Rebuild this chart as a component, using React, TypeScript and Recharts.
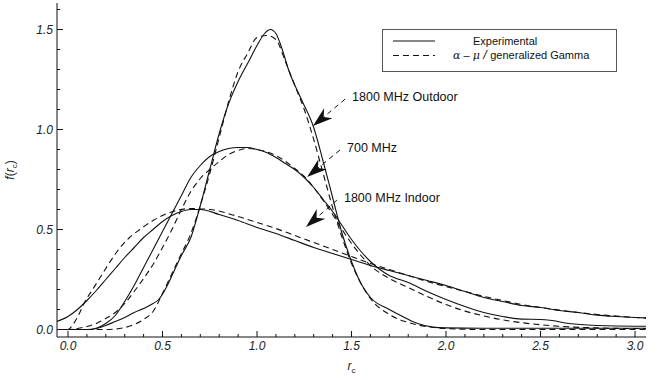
import React from 'react';
import { LineChart, Line, XAxis, YAxis, Legend, ReferenceLine } from 'recharts';

// [r_c, f(r_c)]
const indoorExp = [
  [-0.06, 0.04], [0, 0.065], [0.05, 0.1], [0.1, 0.145], [0.15, 0.195], [0.2, 0.25], [0.25, 0.305],
  [0.3, 0.36], [0.35, 0.41], [0.4, 0.46], [0.45, 0.5], [0.5, 0.54], [0.55, 0.57], [0.6, 0.59],
  [0.65, 0.6], [0.7, 0.6], [0.8, 0.575], [0.9, 0.545], [1.0, 0.51], [1.1, 0.48], [1.2, 0.445],
  [1.3, 0.41], [1.4, 0.38], [1.5, 0.35], [1.6, 0.32], [1.7, 0.295], [1.8, 0.27], [1.9, 0.245],
  [2.0, 0.22], [2.1, 0.19], [2.2, 0.16], [2.3, 0.14], [2.4, 0.12], [2.5, 0.11], [2.6, 0.095],
  [2.7, 0.085], [2.8, 0.072], [2.9, 0.065], [3.0, 0.06], [3.06, 0.058],
];
const indoorFit = [
  [-0.06, 0], [0, 0], [0.03, 0.03], [0.06, 0.08], [0.09, 0.14], [0.13, 0.2], [0.17, 0.26],
  [0.21, 0.32], [0.26, 0.39], [0.32, 0.455], [0.38, 0.5], [0.45, 0.545], [0.54, 0.585],
  [0.65, 0.605], [0.75, 0.6], [0.9, 0.565], [1.0, 0.535], [1.1, 0.505], [1.2, 0.47], [1.3, 0.435],
  [1.4, 0.4], [1.5, 0.365], [1.6, 0.33], [1.7, 0.3], [1.8, 0.27], [1.9, 0.24], [2.0, 0.215],
  [2.1, 0.19], [2.2, 0.165], [2.3, 0.145], [2.4, 0.125], [2.5, 0.11], [2.6, 0.097], [2.7, 0.085],
  [2.8, 0.075], [2.9, 0.067], [3.0, 0.06], [3.06, 0.057],
];
const mhz700Exp = [
  [-0.06, 0], [0.12, 0], [0.16, 0.01], [0.2, 0.03], [0.25, 0.07], [0.3, 0.14], [0.35, 0.22],
  [0.4, 0.31], [0.45, 0.4], [0.5, 0.49], [0.55, 0.58], [0.6, 0.67], [0.65, 0.76], [0.7, 0.82],
  [0.75, 0.865], [0.8, 0.89], [0.85, 0.905], [0.9, 0.91], [0.95, 0.91], [1.0, 0.9], [1.05, 0.885],
  [1.1, 0.86], [1.15, 0.83], [1.2, 0.8], [1.25, 0.76], [1.3, 0.71], [1.35, 0.65], [1.4, 0.59],
  [1.45, 0.52], [1.5, 0.45], [1.55, 0.39], [1.6, 0.34], [1.65, 0.3], [1.7, 0.27], [1.8, 0.235],
  [1.9, 0.19], [2.0, 0.15], [2.1, 0.115], [2.2, 0.085], [2.3, 0.065], [2.4, 0.052], [2.5, 0.05],
  [2.55, 0.046], [2.65, 0.03], [2.8, 0.02], [3.0, 0.016], [3.06, 0.016],
];
const mhz700Fit = [
  [-0.06, 0], [0, 0], [0.05, 0.005], [0.1, 0.015], [0.15, 0.03], [0.2, 0.055], [0.25, 0.085],
  [0.3, 0.13], [0.35, 0.19], [0.4, 0.255], [0.45, 0.325], [0.5, 0.41], [0.55, 0.5], [0.6, 0.6],
  [0.65, 0.69], [0.7, 0.755], [0.75, 0.8], [0.8, 0.84], [0.85, 0.875], [0.9, 0.895], [0.95, 0.905],
  [1.0, 0.9], [1.1, 0.87], [1.2, 0.805], [1.25, 0.765], [1.3, 0.71], [1.35, 0.645], [1.4, 0.575],
  [1.45, 0.5], [1.5, 0.43], [1.55, 0.37], [1.6, 0.32], [1.7, 0.255], [1.8, 0.21], [1.9, 0.165],
  [2.0, 0.125], [2.1, 0.092], [2.2, 0.068], [2.3, 0.048], [2.4, 0.034], [2.5, 0.024], [2.6, 0.016],
  [2.8, 0.008], [3.0, 0.005], [3.06, 0.005],
];
const outdoorExp = [
  [-0.06, 0], [0.1, 0], [0.15, 0.005], [0.2, 0.02], [0.25, 0.04], [0.3, 0.06], [0.35, 0.085],
  [0.4, 0.105], [0.45, 0.13], [0.48, 0.15], [0.52, 0.21], [0.56, 0.29], [0.6, 0.37], [0.65, 0.46],
  [0.7, 0.62], [0.75, 0.8], [0.8, 0.98], [0.85, 1.13], [0.9, 1.24], [0.95, 1.33], [1.0, 1.42],
  [1.04, 1.48], [1.07, 1.5], [1.1, 1.48], [1.13, 1.41], [1.17, 1.29], [1.23, 1.16], [1.3, 1.01],
  [1.35, 0.84], [1.4, 0.66], [1.45, 0.48], [1.5, 0.34], [1.55, 0.23], [1.6, 0.16], [1.7, 0.1],
  [1.76, 0.07], [1.85, 0.03], [1.93, 0.012], [2.0, 0.008], [2.2, 0.006], [3.06, 0.006],
];
const outdoorFit = [
  [-0.06, 0], [0.2, 0], [0.3, 0.01], [0.35, 0.025], [0.4, 0.05], [0.45, 0.09], [0.5, 0.18],
  [0.55, 0.28], [0.6, 0.38], [0.65, 0.48], [0.7, 0.62], [0.75, 0.78], [0.8, 0.96], [0.85, 1.14],
  [0.9, 1.29], [0.95, 1.38], [1.0, 1.46], [1.05, 1.47], [1.1, 1.45], [1.15, 1.34], [1.2, 1.22],
  [1.25, 1.1], [1.3, 0.95], [1.35, 0.78], [1.4, 0.61], [1.45, 0.46], [1.5, 0.33], [1.55, 0.23],
  [1.6, 0.155], [1.7, 0.075], [1.8, 0.035], [1.9, 0.014], [2.0, 0.005], [2.2, 0], [3.06, 0],
];

const xTicks = [0, 0.1, 0.2, 0.3, 0.4, 0.5, 0.6, 0.7, 0.8, 0.9, 1.0, 1.1, 1.2, 1.3, 1.4, 1.5, 1.6,
  1.7, 1.8, 1.9, 2.0, 2.1, 2.2, 2.3, 2.4, 2.5, 2.6, 2.7, 2.8, 2.9, 3.0];
const xLabels = ['0.0', '0.5', '1.0', '1.5', '2.0', '2.5', '3.0'];
const yTicks = [0, 0.1, 0.2, 0.3, 0.4, 0.5, 0.6, 0.7, 0.8, 0.9, 1.0, 1.1, 1.2, 1.3, 1.4, 1.5, 1.6];
const yLabels = ['0.0', '0.5', '1.0', '1.5'];

const legendItems = [
  { dashed: false, label: 'Experimental' },
  { dashed: true, label: 'alpha-mu' },
];

// annotation leaders: text end -> arrow tip, in data coords
const annotations = [
  { text: '1800 MHz Outdoor', from: { r: 1.466, f: 1.152 }, to: { r: 1.296, f: 1.017 } },
  { text: '700 MHz', from: { r: 1.439, f: 0.8975 }, to: { r: 1.265, f: 0.7625 } },
  { text: '1800 MHz Indoor', from: { r: 1.423, f: 0.6475 }, to: { r: 1.259, f: 0.5125 } },
];

const pts = (rows: number[][]) => rows.map(([r, f]) => ({ r, f }));

const FONT = '"Liberation Sans", Arial, Helvetica, sans-serif';
const INK = '#111';

const BottomTick = (props: any) => {
  const { x, y, payload } = props;
  const label = Number(payload.value).toFixed(1);
  const major = xLabels.includes(label);
  return (
    <g>
      <line x1={x} y1={y} x2={x} y2={y - (major ? 6 : 3)} stroke={INK} />
      {major && (
        <text x={x} y={y + 13} textAnchor="middle" fontSize={12} fontStyle="italic" fontFamily={FONT} fill="#222">
          {label}
        </text>
      )}
    </g>
  );
};

const TopTick = (props: any) => {
  const { x, y, payload } = props;
  const major = xLabels.includes(Number(payload.value).toFixed(1));
  return <line x1={x} y1={y} x2={x} y2={y + (major ? 6 : 3)} stroke={INK} />;
};

const LeftTick = (props: any) => {
  const { x, y, payload } = props;
  const label = Number(payload.value).toFixed(1);
  const major = yLabels.includes(label);
  return (
    <g>
      <line x1={x} y1={y} x2={x + (major ? 6 : 3)} y2={y} stroke={INK} />
      {major && (
        <text x={x - 4} y={y} dy="0.35em" textAnchor="end" fontSize={12} fontStyle="italic" fontFamily={FONT} fill="#222">
          {label}
        </text>
      )}
    </g>
  );
};

const RightTick = (props: any) => {
  const { x, y, payload } = props;
  const major = yLabels.includes(Number(payload.value).toFixed(1));
  return <line x1={x} y1={y} x2={x - (major ? 6 : 3)} y2={y} stroke={INK} />;
};

const XTitle = (props: any) => {
  const { x, y, width } = props.viewBox;
  return (
    <text x={x + width / 2} y={y + 33} textAnchor="middle" fontFamily={FONT} fontSize={12} fill="#222">
      <tspan fontStyle="italic">r</tspan>
      <tspan fontSize={8} dy={3}>c</tspan>
    </text>
  );
};

const YTitle = (props: any) => {
  const { y, height } = props.viewBox;
  const cx = 14;
  const cy = y + height / 2;
  return (
    <text x={cx} y={cy} textAnchor="middle" transform={`rotate(-90, ${cx}, ${cy})`} fontFamily={FONT} fontSize={12} fill="#222">
      <tspan fontStyle="italic">f</tspan>
      <tspan>(</tspan>
      <tspan fontStyle="italic">r</tspan>
      <tspan fontSize={8} dy={3}>c</tspan>
      <tspan dy={-3}>)</tspan>
    </text>
  );
};

const LegendBox = () => (
  <svg width={236} height={43} style={{ display: 'block' }}>
    <rect x={0.5} y={0.5} width={234} height={42} fill="#fff" stroke="#555" />
    {legendItems.map((item, i) => {
      const cy = 12 + i * 14.5;
      return (
        <g key={item.label}>
          <line x1={11} x2={53} y1={cy} y2={cy} stroke={INK} strokeWidth={1.1} strokeDasharray={item.dashed ? '6 4' : undefined} />
          {item.dashed ? (
            <text x={71} y={cy} dy="0.35em" fontFamily={FONT} fontSize={11} fill={INK}>
              <tspan fontFamily='"DejaVu Serif", serif' fontStyle="italic">α</tspan>
              <tspan> – </tspan>
              <tspan fontFamily='"DejaVu Serif", serif' fontStyle="italic">μ</tspan>
              <tspan fontSize={12.5} fontStyle="italic"> / </tspan>
              <tspan>generalized Gamma</tspan>
            </text>
          ) : (
            <text x={91} y={cy} dy="0.35em" fontFamily={FONT} fontSize={11} fill={INK}>
              {item.label}
            </text>
          )}
        </g>
      );
    })}
  </svg>
);

const makeArrow = (text: string) => (props: any) => {
  const { x1, y1, x2, y2 } = props;
  const dx = x2 - x1;
  const dy = y2 - y1;
  const len = Math.hypot(dx, dy);
  const ux = dx / len;
  const uy = dy / len;
  const nx = -uy;
  const ny = ux;
  const L = 20;
  const W = 6.5;
  const N = 14;
  const head = [
    [x2, y2],
    [x2 - L * ux + W * nx, y2 - L * uy + W * ny],
    [x2 - N * ux, y2 - N * uy],
    [x2 - L * ux - W * nx, y2 - L * uy - W * ny],
  ]
    .map((p) => p.join(','))
    .join(' ');
  return (
    <g>
      <line x1={x1} y1={y1} x2={x2 - N * ux} y2={y2 - N * uy} stroke={INK} strokeWidth={1} strokeDasharray="5 4" />
      <polygon points={head} fill={INK} />
      <text x={x1 + 7} y={y1 - 2} dy="0.35em" fontFamily={FONT} fontSize={12.5} fill={INK}>
        {text}
      </text>
    </g>
  );
};

const series = [
  { key: 'indoorExp', data: indoorExp, dashed: false },
  { key: 'indoorFit', data: indoorFit, dashed: true },
  { key: 'mhz700Exp', data: mhz700Exp, dashed: false },
  { key: 'mhz700Fit', data: mhz700Fit, dashed: true },
  { key: 'outdoorExp', data: outdoorExp, dashed: false },
  { key: 'outdoorFit', data: outdoorFit, dashed: true },
];

export default function App() {
  return (
    <div style={{ position: 'absolute', left: 0, top: 0, background: '#fff' }}>
      <LineChart width={663} height={380} margin={{ top: 3, right: 17, bottom: 0, left: 0 }}>
        <XAxis
          type="number"
          dataKey="r"
          domain={[-0.0582, 3.058]}
          allowDataOverflow
          ticks={xTicks}
          interval={0}
          tickSize={0}
          tickMargin={0}
          tickLine={false}
          height={43}
          axisLine={{ stroke: INK }}
          tick={<BottomTick />}
          label={<XTitle />}
        />
        <XAxis
          xAxisId="top"
          orientation="top"
          type="number"
          dataKey="r"
          domain={[-0.0582, 3.058]}
          allowDataOverflow
          ticks={xTicks}
          interval={0}
          tickSize={0}
          tickMargin={0}
          tickLine={false}
          height={0}
          axisLine={{ stroke: INK }}
          tick={<TopTick />}
        />
        <YAxis
          type="number"
          domain={[-0.0375, 1.6325]}
          allowDataOverflow
          ticks={yTicks}
          interval={0}
          tickSize={0}
          tickMargin={0}
          tickLine={false}
          width={57}
          axisLine={{ stroke: INK }}
          tick={<LeftTick />}
          label={<YTitle />}
        />
        <YAxis
          yAxisId="right"
          orientation="right"
          type="number"
          domain={[-0.0375, 1.6325]}
          allowDataOverflow
          ticks={yTicks}
          interval={0}
          tickSize={0}
          tickMargin={0}
          tickLine={false}
          width={0}
          axisLine={{ stroke: INK }}
          tick={<RightTick />}
        />
        {series.map((s) => (
          <Line
            key={s.key}
            data={pts(s.data)}
            dataKey="f"
            type="monotone"
            stroke={INK}
            strokeWidth={1.1}
            strokeDasharray={s.dashed ? '6 4' : undefined}
            dot={false}
            activeDot={false}
            isAnimationActive={false}
          />
        ))}
        {annotations.map((a) => (
          <ReferenceLine
            key={a.text}
            segment={[
              { x: a.from.r, y: a.from.f },
              { x: a.to.r, y: a.to.f },
            ]}
            shape={makeArrow(a.text)}
          />
        ))}
        <Legend
          verticalAlign="middle"
          align="center"
          wrapperStyle={{ top: 29, left: 382, width: 236, height: 43 }}
          content={() => <LegendBox />}
        />
      </LineChart>
    </div>
  );
}
